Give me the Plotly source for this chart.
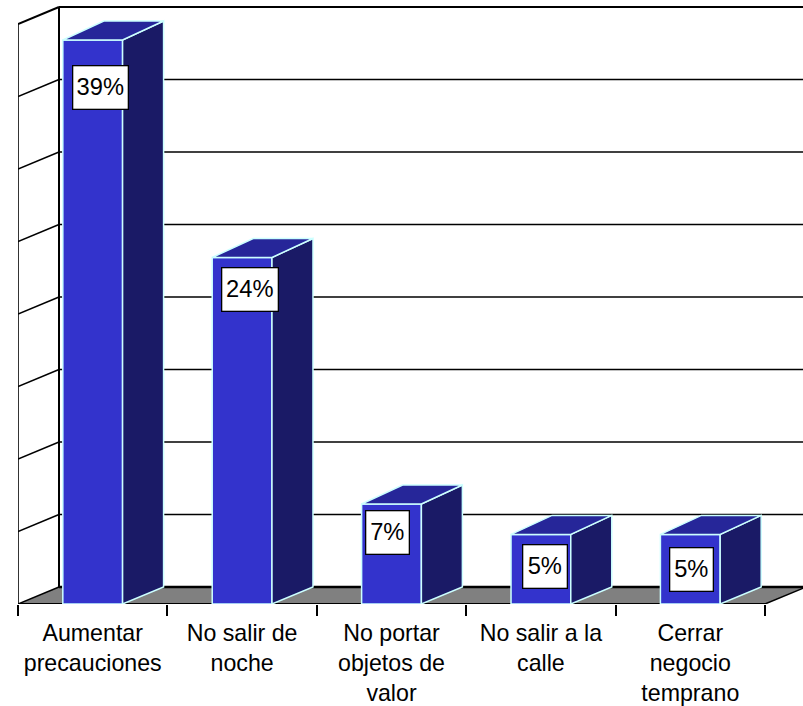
import plotly.graph_objects as go

categories = ["Aumentar<br>precauciones", "No salir de<br>noche", "No portar<br>objetos de<br>valor",
              "No salir a la<br>calle", "Cerrar<br>negocio<br>temprano"]
values = [38.9, 23.9, 6.9, 4.8, 4.8]
labels = ["39%", "24%", "7%", "5%", "5%"]
grid_values = [0, 5, 10, 15, 20, 25, 30, 35, 40]

# style: projection of the depth, in axis units
W, H = 803, 706
L, B = 18, 102
PX_X, PX_Y = 149.4, 14.5
DX, DY_FLOOR, DY_TOP = 41 / PX_X, 17 / PX_Y, 19 / PX_Y
BAR_W = 0.4
x_pos = list(range(len(categories)))
x0, x1 = -0.5, len(categories) - 0.5
x_end = x0 + (W - L) / PX_X
y_end = (H - B) / PX_Y
FRONT, SIDE, TOP, EDGE = "#3333CC", "#1A1A66", "#262699", "#CCFFFF"
FONT = "Liberation Sans, Arial, sans-serif"
label_dx = [7.8, 8, -4.3, 4, 1.2]
label_dy = [47.5, 32.5, 29, 32, 35]
label_w = [54, 55, 42, 43, 42]

fig = go.Figure()
shapes = []


def line(xa, ya, xb, yb, width=1.5):
    shapes.append(dict(type="line", layer="below", xref="x", yref="y", x0=xa, y0=ya, x1=xb, y1=yb,
                       line=dict(color="black", width=width)))


# floor
shapes.append(dict(type="path", layer="below", xref="x", yref="y", line=dict(width=0), fillcolor="#808080",
                   path=f"M{x0},0 L{x0 + DX},{DY_FLOOR} L{x1 + DX},{DY_FLOOR} L{x1},0 Z"))
# walls
for g in grid_values[1:]:
    top = g == grid_values[-1]
    line(x0, g, x0 + DX, g + DY_FLOOR, 2 if top else 1.5)
    line(x0 + DX, g + DY_FLOOR, x_end, g + DY_FLOOR, 2.2 if top else 1.5)
line(x0 + DX, DY_FLOOR, x1 + DX, DY_FLOOR, 2.4)
line(x0, 0, x0 + DX, DY_FLOOR, 1.5)
line(x0, 0, x0, grid_values[-1], 1.6)
line(x0 + DX, DY_FLOOR, x0 + DX, grid_values[-1] + DY_FLOOR, 2)
line(x1, 0, x1 + DX, DY_FLOOR, 1.5)
line(x0, 0, x1, 0, 2)

# front faces
fig.add_trace(go.Bar(x=x_pos, y=values, width=BAR_W, marker=dict(color=FRONT, line=dict(color=EDGE, width=1.5)),
                     hoverinfo="skip", showlegend=False))
# side and top faces, projected from the values
for x, v in zip(x_pos, values):
    r = x + BAR_W / 2
    l = x - BAR_W / 2
    fig.add_trace(go.Scatter(x=[r, r + DX, r + DX, r, r], y=[0, DY_FLOOR, v + DY_TOP, v, 0], mode="lines",
                             fill="toself", fillcolor=SIDE, line=dict(color=EDGE, width=1.5),
                             hoverinfo="skip", showlegend=False))
    fig.add_trace(go.Scatter(x=[l, r, r + DX, l + DX, l], y=[v, v, v + DY_TOP, v + DY_TOP, v], mode="lines",
                             fill="toself", fillcolor=TOP, line=dict(color=EDGE, width=1.5),
                             hoverinfo="skip", showlegend=False))

annotations = [dict(x=x, y=v, text=t, xref="x", yref="y", showarrow=False, xshift=dx, yshift=-dy,
                    width=w, height=42, bgcolor="white", bordercolor="black", borderwidth=1.3, borderpad=0,
                    font=dict(family=FONT, size=23.7, color="black"), align="center", valign="middle")
               for x, v, t, dx, dy, w in zip(x_pos, values, labels, label_dx, label_dy, label_w)]

fig.update_layout(
    width=W, height=H, margin=dict(l=L, r=0, t=0, b=B, pad=0), autosize=False,
    paper_bgcolor="white", plot_bgcolor="white", shapes=shapes, annotations=annotations,
    showlegend=False, barmode="overlay",
    font=dict(family=FONT, size=23.2, color="black"),
    xaxis=dict(range=[x0, x_end], tickmode="array", tickvals=x_pos, ticktext=categories, ticks="outside",
               ticklen=0.01, tickcolor="rgba(0,0,0,0)", showgrid=False, zeroline=False, showline=False,
               tickangle=0, automargin=False, ticklabelstandoff=8,
               minor=dict(tickmode="array", tickvals=[x0 + i for i in range(len(categories) + 1)],
                          ticks="outside", ticklen=11, tickwidth=1.5, tickcolor="black", showgrid=False)),
    yaxis=dict(range=[0, y_end], showgrid=False, zeroline=False, showline=False, showticklabels=False,
               ticks="", automargin=False),
)
fig.write_html("out.html", config=dict(displayModeBar=False),
               post_script="document.body.style.margin='0';document.documentElement.style.overflow='hidden';")
